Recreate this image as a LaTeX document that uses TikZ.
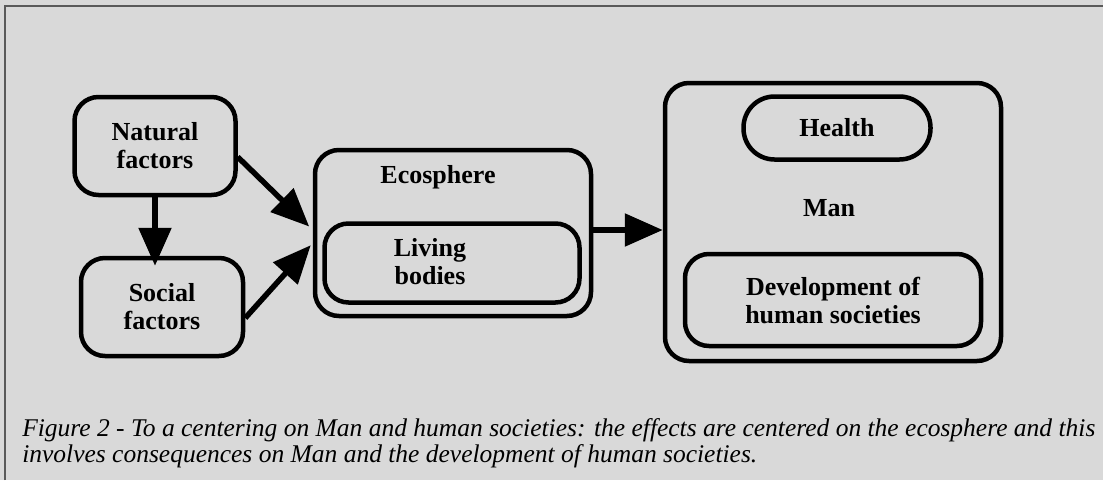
\documentclass[tikz,border=0pt]{standalone}
\usepackage{fontspec}
\setmainfont{Liberation Serif}
\usetikzlibrary{arrows.meta}
\definecolor{paper}{HTML}{D9D9D9}
\definecolor{rule}{HTML}{5A5A5A}

\begin{document}
\begin{tikzpicture}[x=1pt,y=-1pt,>={Triangle[length=38pt,width=32pt]},
                    line width=4.5pt,
                    box/.style={draw,rounded corners=24pt,inner sep=0pt,align=center,
                                font=\bfseries\fontsize{26}{28}\selectfont},
                    lbl/.style={inner sep=0pt,align=center,
                                font=\bfseries\fontsize{26}{28}\selectfont},
                    arr/.style={->,line width=5.5pt},
                    captxt/.style={anchor=base west,inner sep=0pt,
                                font=\itshape\fontsize{25.5}{27}\selectfont}]

  \useasboundingbox (0,0) rectangle (1103,480);
  \fill[paper] (0,0) rectangle (1103,480);
  \draw[rule,line width=1.5pt] (5,480) -- (5,6) -- (1103,6);

  \node[box,minimum width=161pt,minimum height=98pt] (nat) at (155,146) {Natural\\factors};
  \node[box,minimum width=162pt,minimum height=98pt] (soc) at (162,307) {Social\\factors};

  \node[box,minimum width=276pt,minimum height=166pt] (eco) at (453,233) {};
  \node[lbl] (ecolbl) at (438,177) {Ecosphere};
  \node[box,minimum width=255pt,minimum height=79pt] (liv) at (452,263) {};
  \node[lbl] (livlbl) at (430,262) {Living\\bodies};

  \node[box,minimum width=336pt,minimum height=278pt] (man) at (833,222) {};
  \node[lbl] (manlbl) at (829,208) {Man};
  \node[box,rounded corners=31pt,minimum width=187pt,minimum height=63pt] (hea) at (837,128) {Health};
  \node[box,minimum width=296pt,minimum height=92pt] (dev) at (833,300) {Development of\\human societies};

  \path[arr,shorten >=-10pt] (nat.south) edge (nat.south |- soc.north);
  \path[arr,shorten >=5pt] ([yshift=-11pt]nat.east) edge ([yshift=3pt]eco.west);
  \path[arr,shorten >=3pt] ([yshift=-11pt]soc.east) edge ([yshift=-10pt]eco.west);
  \path[arr] ([yshift=3pt]eco.east) edge ([yshift=3pt]eco.east -| man.west);

  \node[captxt] (cap1) at (20,436) {Figure 2 - To a centering on Man and human societies: the effects are centered on the ecosphere and this};
  \node[captxt] (cap2) at (20,462) {involves consequences on Man and the development of human societies.};

\end{tikzpicture}
\end{document}
